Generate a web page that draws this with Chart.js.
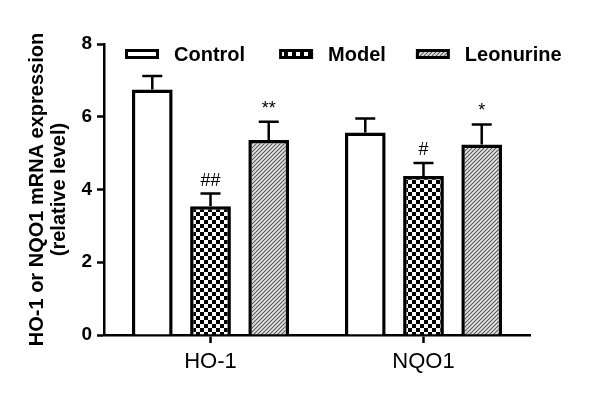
<!DOCTYPE html>
<html>
<head>
<meta charset="utf-8">
<script src="https://cdn.jsdelivr.net/npm/chart.js@4.4.1/dist/chart.umd.min.js"></script>
<style>
  html, body { margin: 0; padding: 0; background: #fff; }
  #wrap { width: 600px; height: 395px; }
</style>
</head>
<body>
<div id="wrap"><canvas id="geneChart"></canvas></div>
<script>
// Data
const genes = ['HO-1', 'NQO1'];
const groups = ['Control', 'Model', 'Leonurine'];
const controlMean = [6.75, 5.57];
const modelMean = [3.54, 4.37];
const leonurineMean = [5.36, 5.24];
const controlSem = [0.37, 0.38];
const modelSem = [0.35, 0.36];
const leonurineSem = [0.5, 0.55];
const modelMarks = ['##', '#'];
const leonurineMarks = ['**', '*'];
const yTicks = [0, 2, 4, 6, 8];

// fill patterns
function checkerPattern() {
    const c = document.createElement('canvas');
    c.width = 8; c.height = 8;
    const g = c.getContext('2d');
    g.fillStyle = '#fff';
    g.fillRect(0, 0, 8, 8);
    g.fillStyle = '#000';
    g.fillRect(0, 0, 4, 4);
    g.fillRect(4, 4, 4, 4);
    return g.createPattern(c, 'repeat');
}

function hatchPattern() {
    const c = document.createElement('canvas');
    c.width = 4; c.height = 4;
    const g = c.getContext('2d');
    g.fillStyle = '#e6e6e6';
    g.fillRect(0, 0, 4, 4);
    g.strokeStyle = '#555';
    g.lineWidth = 1.1;
    g.beginPath();
    g.moveTo(0, 4); g.lineTo(4, 0);
    g.moveTo(-1, 1); g.lineTo(1, -1);
    g.moveTo(3, 5); g.lineTo(5, 3);
    g.stroke();
    return g.createPattern(c, 'repeat');
}

const fills = ['#fff', checkerPattern(), hatchPattern()];
const sems = [controlSem, modelSem, leonurineSem];
const marks = [null, modelMarks, leonurineMarks];

// error bars (upper only) and significance marks
const errorBars = {
    id: 'errorBars',
    afterDatasetsDraw(chart) {
        const ctx = chart.ctx;
        const y = chart.scales.y;
        ctx.save();
        ctx.strokeStyle = '#000';
        ctx.fillStyle = '#000';
        ctx.lineWidth = 2.5;
        chart.data.datasets.forEach((ds, i) => {
            chart.getDatasetMeta(i).data.forEach((bar, j) => {
                const top = y.getPixelForValue(ds.data[j] + sems[i][j]);
                ctx.beginPath();
                ctx.moveTo(bar.x, bar.y);
                ctx.lineTo(bar.x, top);
                ctx.moveTo(bar.x - 10, top);
                ctx.lineTo(bar.x + 10, top);
                ctx.stroke();
                if (marks[i]) {
                    ctx.font = '18px "Liberation Sans", Arial, sans-serif';
                    ctx.textAlign = 'center';
                    ctx.textBaseline = 'alphabetic';
                    ctx.fillText(marks[i][j], bar.x, top - 8);
                }
            });
        });
        ctx.restore();
    }
};

// legend drawn inside the plot, like the original figure
const boxLegend = {
    id: 'boxLegend',
    afterDraw(chart) {
        const ctx = chart.ctx;
        const cy = 54;
        const gaps = [34, 30];
        let x = 125;
        ctx.save();
        ctx.font = 'bold 20px "Liberation Sans", Arial, sans-serif';
        ctx.textBaseline = 'middle';
        ctx.textAlign = 'left';
        groups.forEach((name, i) => {
            ctx.fillStyle = '#000';
            ctx.fillRect(x, cy - 5, 34, 10);
            ctx.fillStyle = fills[i];
            ctx.fillRect(x + 3, cy - 2, 28, 4);
            ctx.fillStyle = '#000';
            ctx.fillText(name, x + 49, cy + 1);
            x += 49 + ctx.measureText(name).width + (gaps[i] || 0);
        });
        ctx.restore();
    }
};

new Chart(document.getElementById('geneChart'), {
    type: 'bar',
    data: {
        labels: genes,
        datasets: [
            { label: groups[0], data: controlMean, backgroundColor: fills[0] },
            { label: groups[1], data: modelMean, backgroundColor: fills[1] },
            { label: groups[2], data: leonurineMean, backgroundColor: fills[2] }
        ]
    },
    options: {
        responsive: true,
        maintainAspectRatio: false,
        animation: false,
        layout: { padding: { left: 0, right: 70, top: 44, bottom: 0 } },
        datasets: {
            bar: {
                borderColor: '#000',
                borderWidth: 3.5,
                categoryPercentage: 0.82,
                barPercentage: 0.7
            }
        },
        scales: {
            x: {
                grid: { display: true, offset: false, drawOnChartArea: false, tickLength: 8, tickWidth: 2.5, tickColor: '#000' },
                border: { display: true, color: '#000', width: 2.5 },
                ticks: { color: '#000', padding: 6, font: { family: '"Liberation Sans", Arial, sans-serif', size: 22 } },
                afterFit(scale) { scale.height = 60; }
            },
            y: {
                min: 0,
                max: 8,
                afterBuildTicks(scale) { scale.ticks = yTicks.map(v => ({ value: v })); },
                grid: { display: true, drawOnChartArea: false, tickLength: 7, tickWidth: 2.5, tickColor: '#000' },
                border: { display: true, color: '#000', width: 2.5 },
                ticks: { color: '#000', padding: 5, font: { family: '"Liberation Sans", Arial, sans-serif', size: 19, weight: 'bold' } },
                title: {
                    display: true,
                    text: ['HO-1 or NQO1 mRNA expression', '(relative level)'],
                    color: '#000',
                    padding: { top: 26, bottom: 0 },
                    font: { family: '"Liberation Sans", Arial, sans-serif', size: 20, weight: 'bold', lineHeight: 1.1 }
                },
                afterFit(scale) { scale.width = 104; }
            }
        },
        plugins: {
            legend: { display: false },
            tooltip: { enabled: false }
        }
    },
    plugins: [errorBars, boxLegend]
});
</script>
</body>
</html>
